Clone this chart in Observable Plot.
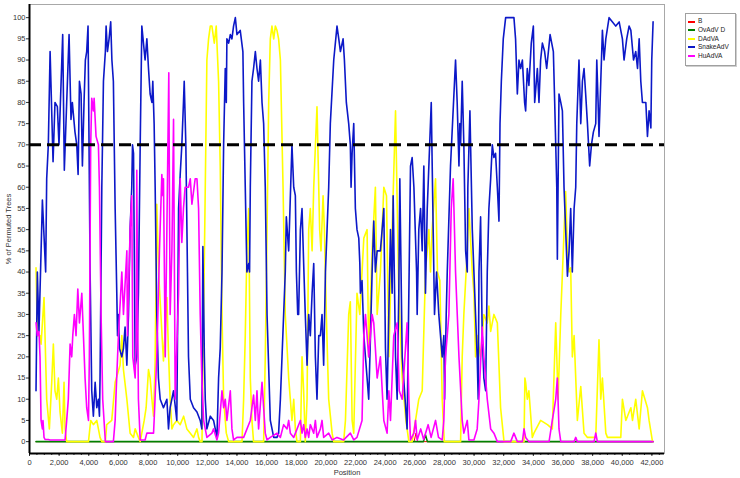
<!DOCTYPE html>
<html><head><meta charset="utf-8">
<script src="https://cdn.jsdelivr.net/npm/d3@7"></script>
<script src="https://cdn.jsdelivr.net/npm/@observablehq/plot@0.6"></script>
<style>
body{margin:0;background:#fff;}
#wrap{position:relative;width:740px;height:478px;font-family:"Liberation Sans",Arial,sans-serif;}
#legend{position:absolute;left:685px;top:13px;width:49px;height:51px;border:1px solid #a0a0a0;background:#fff;box-shadow:1px 1px 0 #cfcfcf;}
.item{position:absolute;left:2px;height:9px;font-size:6.5px;line-height:9px;color:#222;white-space:nowrap}
.item .sw{display:inline-block;width:7px;height:2px;vertical-align:middle;margin-right:3px}
</style></head>
<body><div id="wrap"><div id="chart"></div><div id="legend"></div></div>
<script>
const seriesNames = ["B", "OvAdV D", "DAdVA", "SnakeAdV", "HuAdVA"];
const seriesColors = ["#ff0000", "#008000", "#ffff00", "#0c18c8", "#ff00ff"];
const seriesWidths = [1, 1.6, 1.6, 1.6, 1.6];
const xTicks = d3.range(0, 42001, 2000);
const xMinorTicks = d3.range(0, 42501, 500);
const yTicks = d3.range(0, 101, 5);
const xDomain = [0, 42850];
const yDomain = [-2.8, 103.1];
const threshold = 70;

const bData = [[440,0],[25950,0],[26080,2],[26200,0],[42080,0]];
const ovData = [[440,0],[26580,0],[26720,1.6],[26850,0],[42080,0]];

const dadvData = [[440,41],[530,25],[710,25],[780,23],[980,34],[1160,10],[1340,3],[1500,14],[1610,23],[1720,12],[1840,10],[1950,15],[2060,7],[2220,2],[2330,14],[2400,3],[2510,0],[3980,0],[4130,5],[4310,4],[4540,5],[4760,1],[4880,0],[5120,0],[5210,4],[5550,5],[5780,14],[6110,18],[6230,25],[6340,17],[6570,10],[6790,2],[7020,1],[7130,3],[7350,1],[7470,0],[7740,5],[7870,8],[8030,17],[8140,15],[8260,10],[8370,6],[8480,19],[8590,56],[8710,40],[8820,33],[9040,19],[9270,34],[9380,21],[9490,10],[9610,3],[9720,4],[9940,5],[10170,4],[10400,6],[10620,3],[10850,2],[11070,1],[11300,3],[11410,1],[11520,0],[11640,0],[11750,30],[11810,46],[11970,90],[12084,95],[12200,98],[12310,98],[12470,94],[12600,98],[12760,85],[12870,65],[12990,30],[13100,10],[13280,2],[13440,0],[14340,0],[14450,10],[14560,25],[14670,45],[14790,55],[14900,15],[15010,5],[15120,0],[15800,0],[15910,20],[16030,50],[16140,80],[16250,95],[16360,98],[16480,95],[16590,98],[16700,97],[16810,95],[16930,90],[17110,60],[17260,30],[17490,15],[17600,10],[17710,5],[17830,10],[17940,3],[18050,0],[18280,0],[18390,20],[18500,12],[18610,0],[18730,10],[18840,50],[18950,55],[19070,45],[19180,60],[19400,79],[19580,50],[19670,45],[19810,58],[19900,50],[20030,30],[20190,10],[20420,2],[20530,0],[21200,0],[21320,5],[21540,30],[21650,33],[21770,5],[21880,2],[22100,35],[22290,30],[22440,40],[22560,48],[22780,50],[22890,20],[23120,45],[23340,60],[23460,30],[23680,40],[23910,60],[24090,58],[24250,20],[24470,50],[24700,78],[24920,35],[25150,15],[25400,5],[25600,0],[25820,0],[26050,5],[26270,10],[26500,12],[26720,40],[26950,50],[27060,40],[27170,50],[27400,62],[27530,40],[27690,38],[27850,10],[27990,0],[29090,0],[29200,20],[29310,30],[29540,45],[29650,55],[29880,40],[29990,35],[30100,20],[30210,25],[30440,20],[30660,30],[30890,28],[31000,32],[31120,26],[31340,30],[31570,28],[31790,8],[32020,0],[33370,0],[33430,15],[33480,14],[33590,10],[33700,12],[33930,1],[34040,2],[34490,5],[34950,4],[35280,3],[35510,28],[35670,10],[35850,30],[36180,59],[36300,45],[36410,40],[36520,41],[36630,20],[36750,25],[36970,5],[37200,13],[37420,2],[37650,1],[38210,1],[38430,24],[38550,10],[38660,15],[38890,2],[39000,1],[39900,1],[40010,10],[40240,5],[40580,8],[40690,5],[40910,10],[41140,3],[41360,12],[41700,8],[41810,5],[42040,0]];

const snakeData = [[440,12],[530,40],[640,26],[870,57],[1090,40],[1160,62],[1270,70],[1390,92],[1590,66],[1720,80],[1880,79],[1990,70],[2240,96],[2350,64],[2670,96],[2800,76],[2890,80],[3070,73],[3190,70],[3280,63],[3370,85],[3480,82],[3570,65],[3680,80],[3770,90],[3860,92],[3950,98],[4090,40],[4200,12],[4310,6],[4430,14],[4540,8],[4650,10],[4720,6],[4760,15],[4880,60],[4990,85],[5120,92],[5170,98],[5260,92],[5370,95],[5480,99],[5560,90],[5660,85],[5780,55],[5890,35],[5940,25],[6000,30],[6070,22],[6230,20],[6340,22],[6450,27],[6570,18],[6680,30],[6790,50],[6900,60],[6950,70],[7020,68],[7130,18],[7240,20],[7350,35],[7470,70],[7580,98],[7690,94],[7800,90],[7920,95],[8030,88],[8140,82],[8260,80],[8320,85],[8410,75],[8480,60],[8590,30],[8700,15],[8820,10],[9040,8],[9270,10],[9380,3],[9490,8],[9720,12],[9940,5],[10060,55],[10170,63],[10280,70],[10390,80],[10440,85],[10550,70],[10660,40],[10730,20],[10850,10],[11070,8],[11300,7],[11520,5],[11630,3],[11700,46],[11800,20],[11860,10],[11970,3],[12200,6],[12420,5],[12650,1],[12760,15],[12870,22],[12990,40],[13100,70],[13210,88],[13280,80],[13320,95],[13440,94],[13550,96],[13660,95],[13770,98],[13890,100],[14000,96],[14220,97],[14400,92],[14450,80],[14560,60],[14670,40],[14790,42],[14850,40],[14900,60],[15010,85],[15120,88],[15240,92],[15350,88],[15460,85],[15580,90],[15690,80],[15800,75],[15910,60],[16030,30],[16250,5],[16480,1],[16700,1],[16810,2],[16930,10],[17040,20],[17260,40],[17330,53],[17490,45],[17710,70],[17830,60],[17940,58],[18010,40],[18100,30],[18160,30],[18280,50],[18390,55],[18500,42],[18610,30],[18730,18],[18840,30],[18950,25],[19070,35],[19180,42],[19290,20],[19400,10],[19520,25],[19630,25],[19740,30],[19850,18],[19970,40],[20080,50],[20190,60],[20300,75],[20530,90],[20750,98],[20870,95],[20980,92],[21160,95],[21250,90],[21380,80],[21540,75],[21650,70],[21700,60],[21770,68],[21880,75],[21990,55],[22100,50],[22220,48],[22290,42],[22330,35],[22440,38],[22560,25],[22670,20],[22780,15],[22890,10],[23010,25],[23120,40],[23230,52],[23340,40],[23460,45],[23680,45],[23910,55],[24020,22],[24130,10],[24360,50],[24470,35],[24540,58],[24700,20],[24810,10],[24920,35],[24990,62],[25150,20],[25480,3],[25710,65],[25820,67],[25940,60],[26120,40],[26160,30],[26270,50],[26390,55],[26500,45],[26610,65],[26720,35],[26840,55],[27110,80],[27240,50],[27330,30],[27470,40],[27620,30],[27850,20],[27960,25],[28010,10],[28120,30],[28190,40],[28410,65],[28750,90],[28860,80],[28980,65],[29040,75],[29090,70],[29200,85],[29310,70],[29430,45],[29540,40],[29580,60],[29720,78],[29880,50],[30100,30],[30210,20],[30280,10],[30330,40],[30440,53],[30550,25],[30660,15],[30780,12],[30890,40],[31000,55],[31120,62],[31230,70],[31340,67],[31450,68],[31570,60],[31680,52],[31750,75],[31840,85],[31970,95],[32130,100],[32470,100],[32690,100],[32800,95],[32920,82],[33030,90],[33140,88],[33260,90],[33410,80],[33480,78],[33590,88],[33700,84],[33860,94],[34000,98],[34090,80],[34160,83],[34270,88],[34380,80],[34490,90],[34610,94],[34760,92],[34900,88],[35130,96],[35350,92],[35440,80],[35580,60],[35620,43],[35730,82],[35850,80],[35960,78],[36070,60],[36180,50],[36300,39],[36410,45],[36520,55],[36630,40],[36750,55],[36860,60],[36930,75],[37080,90],[37200,75],[37310,85],[37420,88],[37530,82],[37650,75],[37800,65],[37920,70],[38050,73],[38210,75],[38280,90],[38370,80],[38430,72],[38550,85],[38660,97],[38770,90],[38890,95],[39110,100],[39340,99],[39560,98],[39790,99],[40010,95],[40120,90],[40300,95],[40460,98],[40580,97],[40760,90],[40910,92],[41030,88],[41140,95],[41250,85],[41360,80],[41480,80],[41590,80],[41700,72],[41810,78],[41930,74],[41990,90],[42080,99]];

const huData = [[440,28],[530,25],[640,26],[710,20],[780,5],[870,3],[910,5],[980,1],[1050,0.5],[1270,0.5],[1390,0.4],[2400,0.4],[2510,5],[2620,10],[2740,23],[2850,20],[2920,25],[3030,30],[3140,25],[3260,36],[3370,28],[3530,35],[3640,25],[3750,15],[3860,8],[3980,5],[4040,20],[4130,70],[4200,81],[4310,78],[4360,81],[4490,72],[4650,70],[4720,60],[4830,30],[4940,10],[5030,5],[5120,0],[5660,0],[5780,5],[5850,12],[6000,25],[6230,40],[6340,30],[6570,45],[6610,25],[6790,50],[6900,58],[6970,20],[7130,15],[7200,25],[7240,64],[7300,30],[7350,10],[7470,0.4],[7800,0.4],[7920,2],[8370,2],[8410,5],[8590,20],[8770,45],[8930,63],[9000,58],[9040,62],[9160,20],[9270,50],[9400,87],[9490,30],[9610,45],[9720,76],[9830,10],[9940,22],[10060,35],[10170,62],[10280,47],[10390,55],[10500,60],[10730,60],[10850,62],[10960,56],[11180,62],[11300,62],[11410,55],[11520,30],[11630,15],[11750,5],[11970,1],[12310,2],[12420,3],[12650,0.4],[12760,2],[12990,12],[13100,8],[13210,10],[13320,5],[13550,12],[13660,3],[13770,0.4],[14000,1],[14450,1],[14900,5],[15120,11],[15240,5],[15350,12],[15460,3],[15690,14],[15800,8],[15910,2],[16030,0.4],[16250,1],[16700,2],[16930,1],[17150,4],[17380,3],[17490,5],[17600,2],[17830,1],[18280,5],[18390,2],[18500,4],[18610,1],[18730,3],[18840,1],[18950,4],[19180,2],[19290,5],[19400,1],[19630,3],[19740,5],[19850,1],[20190,2],[20420,0.4],[20750,1],[21200,0.4],[21650,2],[21880,0.4],[22100,1],[22440,5],[22560,25],[22670,30],[22890,20],[23120,30],[23230,28],[23340,22],[23460,15],[23680,20],[23910,5],[24130,2],[24250,12],[24360,5],[24470,15],[24580,25],[24810,28],[24950,12],[25150,10],[25480,28],[25600,10],[25710,0.4],[25940,2],[26050,5],[26160,0.4],[26400,3],[26600,0.5],[26900,4],[27100,1],[27400,5],[27600,1],[27850,0.4],[27960,5],[28070,20],[28190,25],[28300,30],[28460,55],[28590,62],[28750,40],[28980,20],[29200,5],[29310,2],[29540,5],[29650,0.4],[29990,0.4],[30210,3],[30330,10],[30550,27],[30660,20],[30890,10],[31120,3],[31340,2],[31570,0],[32470,0],[32690,2],[32920,0],[33260,0],[33370,3],[33480,1],[33700,0],[35060,0],[35280,5],[35510,10],[35620,15],[35730,3],[35850,0],[36750,0],[36860,1],[36970,0],[38100,0],[38210,2],[38320,0],[42080,0]];

const allSeries = [bData, ovData, dadvData, snakeData, huData];
const rows = allSeries.map((arr, i) => arr.map(([x, y]) => ({x, y, s: seriesNames[i]})));

const lineMarks = rows.map((r, i) => Plot.line(r, {x: "x", y: "y", stroke: seriesColors[i], strokeWidth: seriesWidths[i]}));

const plot = Plot.plot({
  width: 740, height: 478,
  marginLeft: 29, marginRight: 76, marginTop: 4, marginBottom: 25,
  style: {fontFamily: "Liberation Sans, Arial, sans-serif", fontSize: "7.5px", color: "#333", background: "#fff"},
  x: {domain: xDomain},
  y: {domain: yDomain},
  marks: [
    Plot.frame({stroke: "#a8a8a8"}),
    Plot.axisX({ticks: xMinorTicks, tickSize: 2, tickFormat: () => "", label: null}),
    Plot.axisX({ticks: xTicks, tickSize: 3, tickPadding: 3, tickFormat: d3.format(","), label: "Position", labelAnchor: "center", labelOffset: 21, labelArrow: "none"}),
    Plot.axisY({ticks: yTicks, tickSize: 3, tickPadding: 1, label: "% of Permuted Trees", labelAnchor: "center", labelOffset: 24, labelArrow: "none"}),
    ...lineMarks,
    Plot.ruleY([threshold], {stroke: "#000", strokeWidth: 3, strokeDasharray: "12,6"}),
    Plot.ruleX([xDomain[0]], {stroke: "#000", strokeWidth: 2}),
    Plot.ruleY([yDomain[0]], {stroke: "#000", strokeWidth: 2})
  ]
});
document.getElementById("chart").appendChild(plot);

const legend = document.getElementById("legend");
seriesNames.forEach((name, i) => {
  const d = document.createElement("div");
  d.className = "item";
  d.style.top = (2.3 + i * 8.6) + "px";
  d.innerHTML = `<span class="sw" style="background:${seriesColors[i]}"></span>${name}`;
  legend.appendChild(d);
});
</script></body></html>
